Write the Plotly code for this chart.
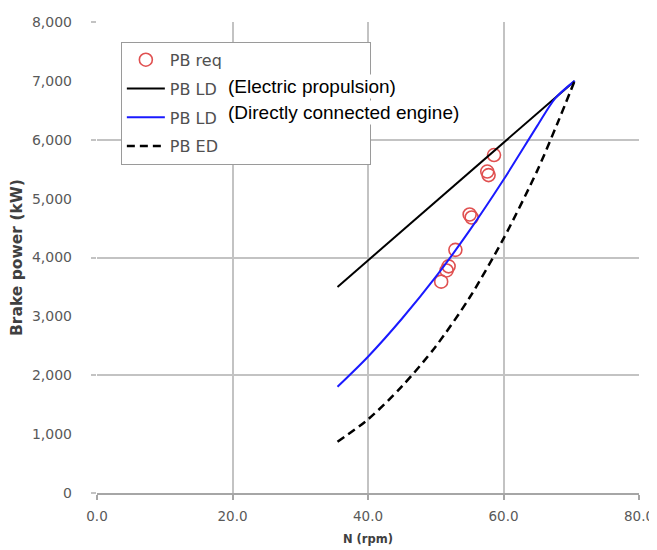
import plotly.graph_objects as go

# ---- data ----
N_req = [50.8, 51.6, 51.9, 52.9, 55.0, 55.3, 57.6, 57.8, 58.6]
PB_req = [3590, 3780, 3850, 4130, 4730, 4680, 5460, 5400, 5740]

N_electric = [35.5, 40, 45, 50, 55, 60, 65, 67.6, 70.5]
PB_LD_electric = [3500, 3950, 4450, 4950, 5450, 5950, 6450, 6710, 7000]

N_direct = [35.5, 40, 45, 50, 55, 60, 65, 67.6, 70.5]
PB_LD_direct = [1805, 2315, 2960, 3670, 4460, 5320, 6240, 6700, 7000]

N_ed = [35.5, 40, 45, 50, 55, 60, 65, 68, 70.5]
PB_ED = [870, 1250, 1810, 2490, 3320, 4320, 5480, 6290, 7000]

x_ticks = [0, 20, 40, 60, 80]
x_grid = [20, 40, 60, 80]
y_ticks = [0, 1000, 2000, 3000, 4000, 5000, 6000, 7000, 8000]
y_grid = [0, 2000, 4000, 6000, 8000]

legend_names = ["PB req", "PB LD", "PB LD", "PB ED"]
legend_notes = ["(Electric propulsion)", "(Directly connected engine)"]

GRID = "#c3c3c3"
TICKFONT = dict(family="DejaVu Sans", size=14, color="#595959")
PAD = "\u00a0" * 28

fig = go.Figure()
fig.add_trace(go.Scatter(
    x=N_req, y=PB_req, mode="markers", name=legend_names[0] + PAD,
    marker=dict(symbol="circle-open", size=13, color="#e05050", line=dict(width=1.6)),
    legendgroup="a"))
fig.add_trace(go.Scatter(
    x=N_electric, y=PB_LD_electric, mode="lines", name=legend_names[1],
    line=dict(color="black", width=2), legendgroup="b"))
fig.add_trace(go.Scatter(
    x=N_direct, y=PB_LD_direct, mode="lines", name=legend_names[2],
    line=dict(color="#1a1aff", width=2, shape="spline", smoothing=0.8), legendgroup="c"))
fig.add_trace(go.Scatter(
    x=N_ed, y=PB_ED, mode="lines", name=legend_names[3],
    line=dict(color="black", width=2.5, dash="8px,5px", shape="spline", smoothing=0.8),
    legendgroup="d"))

# empty carrier traces for the grid-only overlay axes
fig.add_trace(go.Scatter(x=[], y=[], xaxis="x2", yaxis="y", showlegend=False, hoverinfo="skip"))
fig.add_trace(go.Scatter(x=[], y=[], xaxis="x", yaxis="y2", showlegend=False, hoverinfo="skip"))

fig.update_layout(
    width=649, height=542,
    margin=dict(l=89, r=18, t=14, b=57, autoexpand=False),
    paper_bgcolor="white", plot_bgcolor="white",
    showlegend=True,
    legend=dict(
        x=0.044, y=0.958, xanchor="left", yanchor="top",
        bgcolor="white", bordercolor="#9a9a9a", borderwidth=1,
        font=dict(family="DejaVu Sans", size=16, color="#505050"),
        traceorder="grouped", tracegroupgap=5, itemwidth=38,
    ),
    xaxis=dict(
        range=[0, 80], tickvals=x_ticks, tickformat=".1f", automargin=False,
        showgrid=False, zeroline=False,
        showline=True, linecolor="#a6a6a6", linewidth=1.5,
        ticks="outside", ticklen=5, tickcolor="#a6a6a6", tickwidth=1.5,
        ticklabelstandoff=5, ticklabeloverflow="allow",
        tickfont=dict(family="DejaVu Sans", size=13.5, color="#595959"),
        title=dict(text="<b>N (rpm)</b>",
                   font=dict(family="DejaVu Sans", size=11.5, color="#404040"), standoff=12),
    ),
    xaxis2=dict(
        range=[0, 80], tickvals=x_grid, overlaying="x", anchor="y", automargin=False,
        showgrid=True, gridcolor=GRID, gridwidth=1.5, showticklabels=False,
        zeroline=False, showline=False, ticks="",
    ),
    yaxis=dict(
        range=[0, 8000], tickvals=y_ticks, tickformat=",d", automargin=False,
        showgrid=False, zeroline=False, showline=False, ticks="",
        ticklabelstandoff=24, ticklabeloverflow="allow",
        tickfont=TICKFONT,
        title=dict(text="<b>Brake power (kW)</b>",
                   font=dict(family="DejaVu Sans", size=15.5, color="#404040"), standoff=5),
    ),
    yaxis2=dict(
        range=[0, 8000], tickvals=y_grid, overlaying="y", anchor="x", automargin=False,
        showgrid=True, gridcolor=GRID, gridwidth=1.5, showticklabels=False,
        zeroline=False, showline=False, ticks="outside", ticklen=5,
        tickcolor=GRID, tickwidth=1.5, side="left",
    ),
    annotations=[
        dict(text=legend_notes[0], xref="paper", yref="paper", x=0.238, y=0.864,
             xanchor="left", yanchor="middle", showarrow=False, bgcolor="white",
             borderpad=1, font=dict(family="Liberation Sans", size=19, color="black")),
        dict(text=legend_notes[1], xref="paper", yref="paper", x=0.238, y=0.8074,
             xanchor="left", yanchor="middle", showarrow=False, bgcolor="white",
             borderpad=1, font=dict(family="Liberation Sans", size=19, color="black")),
    ],
)

fig.write_html("out.html")
